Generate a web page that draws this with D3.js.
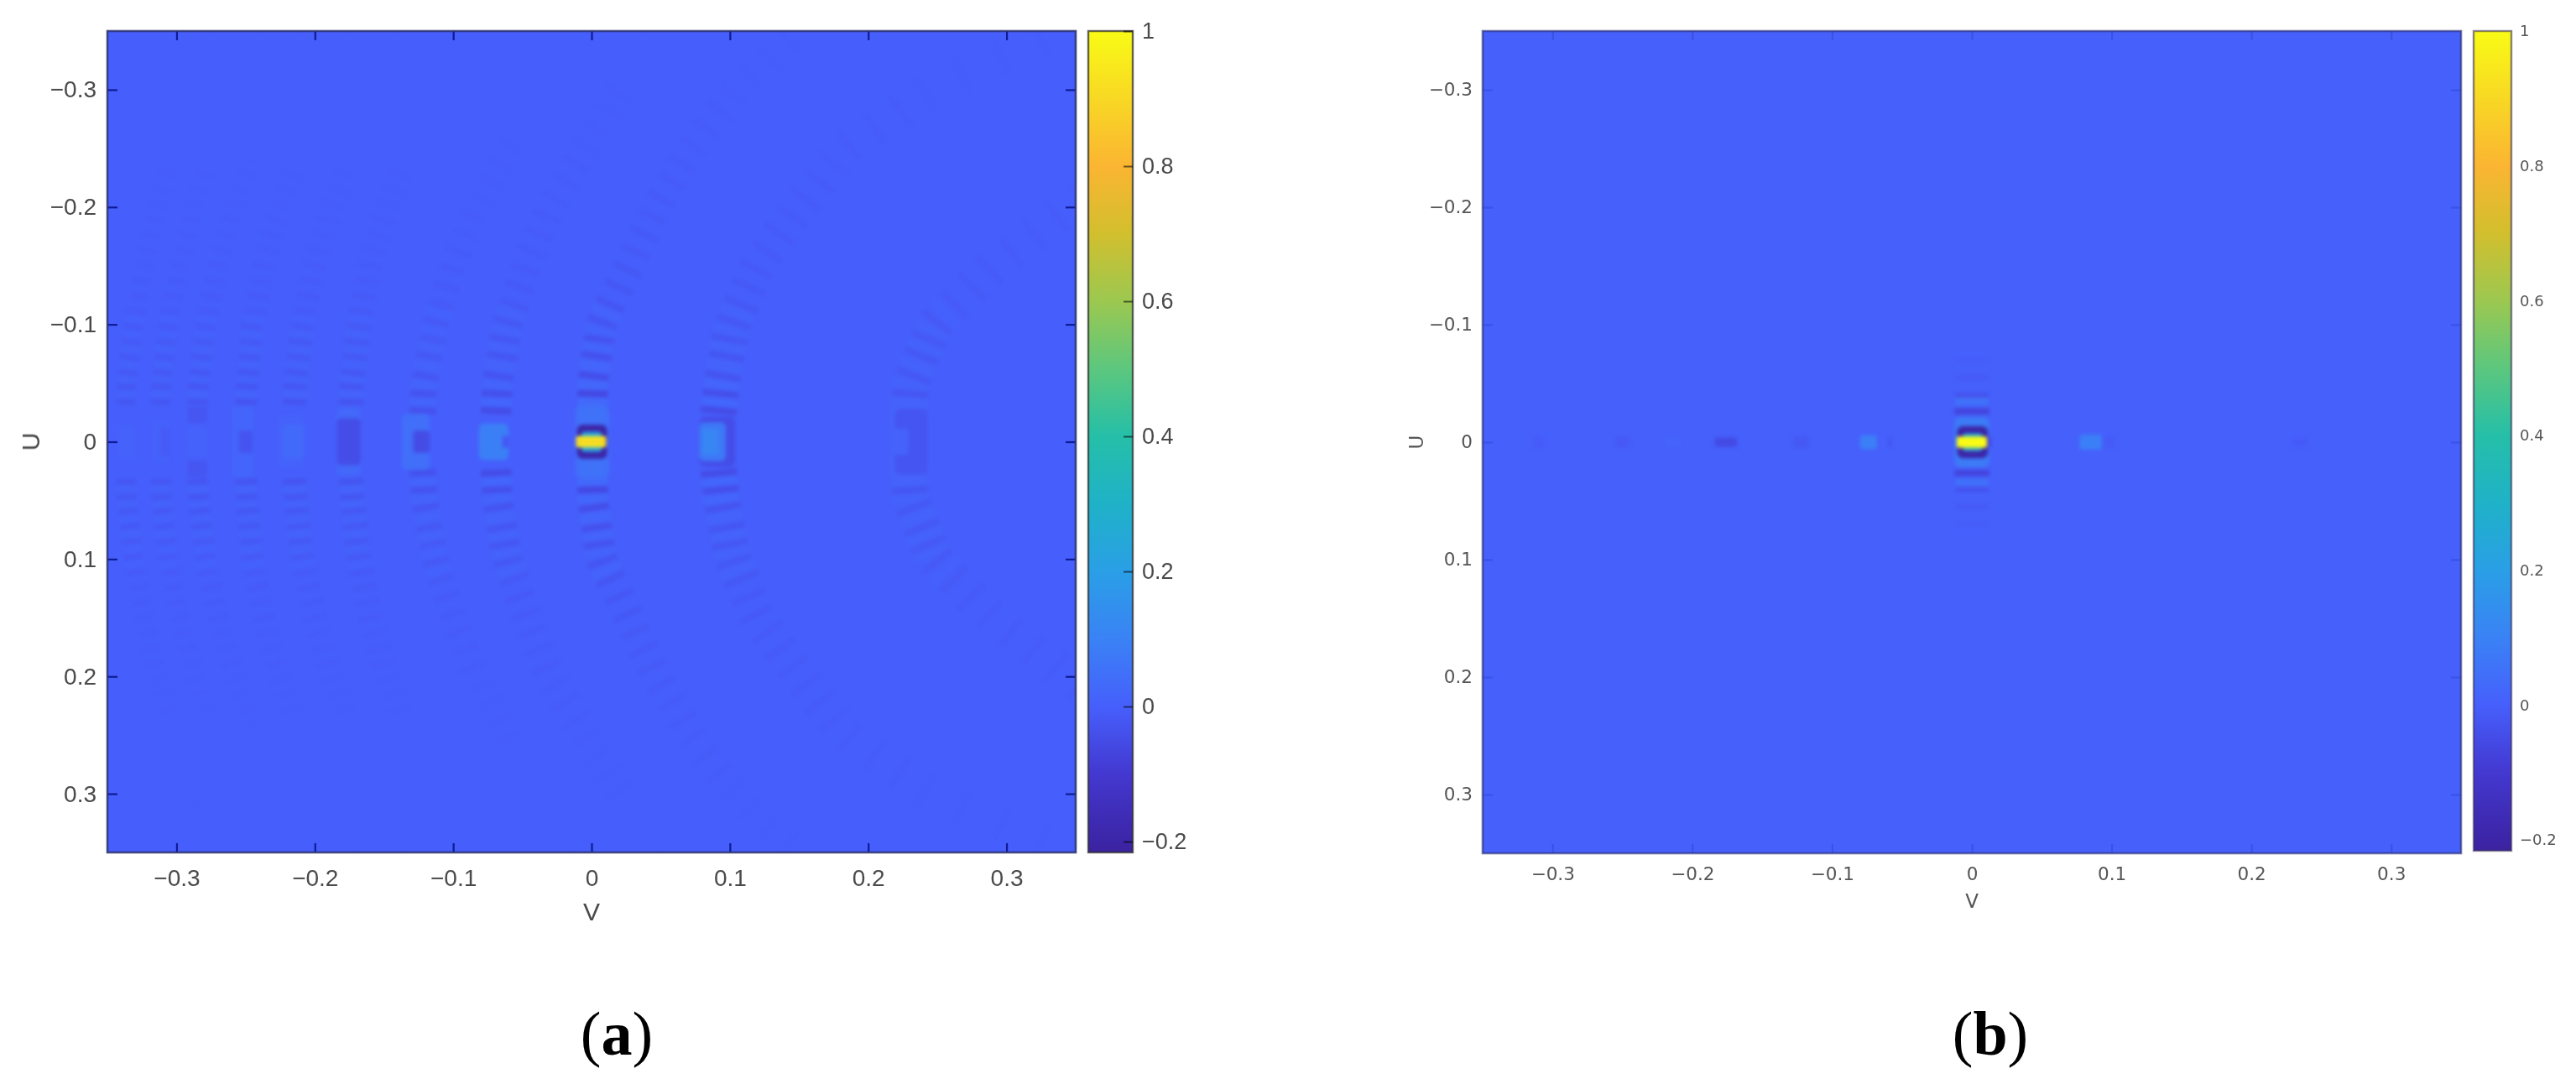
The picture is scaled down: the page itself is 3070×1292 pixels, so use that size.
<!DOCTYPE html>
<html><head><meta charset="utf-8">
<script src="https://cdn.jsdelivr.net/npm/d3@7"></script>
<style>html,body{margin:0;padding:0;background:#fff}svg{display:block}</style>
</head><body><svg id="c" width="3070" height="1292"></svg>
<script>
// ---------- axis data ----------
const vTicks = [-0.3,-0.2,-0.1,0,0.1,0.2,0.3];
const vTickLabels = ["\u22120.3","\u22120.2","\u22120.1","0","0.1","0.2","0.3"];
const uTicks = [-0.3,-0.2,-0.1,0,0.1,0.2,0.3];
const uTickLabels = ["\u22120.3","\u22120.2","\u22120.1","0","0.1","0.2","0.3"];
const barTicks = [-0.2,0,0.2,0.4,0.6,0.8,1];
const barTickLabels = ["\u22120.2","0","0.2","0.4","0.6","0.8","1"];
const colorDomain = [-0.216,-0.1,0,0.1,0.2,0.3,0.4,0.5,0.6,0.7,0.8,0.9,1];
const colorRange = ["#3b22a0","#4338d0","#465ffc","#3a82f5","#2a9fe6","#1fb2c8","#25bfa8","#5cc77e","#9cc850","#d2bf2e","#fbb532","#f8d824","#f9fb15"];

// ---------- ripple arcs of panel (a) ----------
// V position of each arc at |U| = arcU
const arcU = [0,0.05,0.1,0.15,0.2,0.25,0.3,0.35];
const arcC    = [0,0.001,0.007,0.027,0.047,0.072,0.104,0.15];
const arcR1   = [0.09,0.094,0.102,0.12,0.15,0.184,0.245,0.34];
const arcR2   = [0.228,0.231,0.248,0.29,0.345,0.4,0.46,0.52];
const arcL1   = [-0.07,-0.068,-0.061,-0.047,-0.03,-0.005,0.022,0.055];
const arcL2   = [-0.123,-0.121,-0.113,-0.1,-0.083,-0.06,-0.035,-0.005];
const arcL3   = [-0.175,-0.173,-0.168,-0.16,-0.148,-0.133,-0.115,-0.095];
const arcL4   = [-0.216,-0.214,-0.209,-0.2,-0.188,-0.172,-0.152,-0.13];
const arcL5   = [-0.251,-0.249,-0.245,-0.237,-0.226,-0.21,-0.19,-0.17];
const arcL6   = [-0.286,-0.284,-0.279,-0.27,-0.258,-0.242,-0.222,-0.2];
const arcL7   = [-0.312,-0.311,-0.306,-0.298,-0.287,-0.274,-0.256,-0.236];
const arcL8   = [-0.337,-0.336,-0.331,-0.323,-0.314,-0.3,-0.285,-0.265];
// ripple depth of each arc at |U| = ampU
const ampU = [0.03,0.06,0.1,0.15,0.2,0.25,0.3,0.35];
const ampC  = [0.07,0.04,0.026,0.017,0.012,0.009,0.006,0.004];
const ampR1 = [0.05,0.026,0.019,0.014,0.011,0.008,0.006,0.004];
const ampR2 = [0.024,0.018,0.016,0.01,0.008,0.005,0.003,0.003];
const ampL1 = [0.05,0.024,0.019,0.012,0.009,0.006,0.004,0.003];
const ampL2 = [0.035,0.02,0.015,0.01,0.006,0.004,0.003,0.002];
const ampL3 = [0.03,0.02,0.016,0.009,0.006,0.003,0.002,0.002];
const ampL4 = [0.028,0.02,0.015,0.009,0.006,0.003,0.002,0.002];
const ampL5 = [0.028,0.02,0.015,0.009,0.006,0.003,0.002,0.002];
const ampL6 = [0.026,0.019,0.014,0.009,0.006,0.003,0.002,0.002];
const ampL7 = [0.024,0.018,0.014,0.008,0.006,0.003,0.002,0.002];
const ampL8 = [0.024,0.018,0.014,0.008,0.006,0.003,0.002,0.002];
const arcWidths = [0.022,0.026,0.026,0.022,0.019,0.018,0.017,0.016,0.015,0.014,0.014];
// |U| of the dark ripple rows
const rowsWide = [0.0265,0.041,0.056,0.073,0.0873,0.102,0.117,0.132,0.147,0.162,0.177,0.192,0.207,0.222,0.237,0.252,0.267,0.282,0.297,0.312,0.327,0.342];
const rowsNarrow = [0.034,0.047,0.059,0.072,0.085,0.098,0.111,0.124,0.137,0.15,0.163,0.176,0.189,0.202,0.215,0.228,0.241,0.254,0.267,0.28,0.293,0.306,0.319,0.332,0.345];

// central patches: vMin, vMax, uMin, uMax, value
const patchesA = [
 [-0.0115,0.0125,-0.031,0.031,0.05],
 [-0.0105,0.0112,-0.0145,0.0145,-0.2],
 [-0.0075,0.0075,-0.0085,0.0085,0.22],
 [-0.0112,0.0105,-0.0048,0.0048,0.94],
 [-0.0112,0.0105,-0.0006,0.0006,0.78],
 [0.078,0.104,-0.0215,0.0215,-0.045],
 [0.078,0.097,-0.0165,0.0165,0.07],
 [0.079,0.092,-0.011,0.011,0.11],
 [0.216,0.242,-0.037,0.037,0.012],
 [0.219,0.243,-0.028,0.028,-0.026],
 [0.216,0.229,-0.011,0.011,0.012],
 [-0.0815,-0.06,-0.0155,0.0155,0.09],
 [-0.0645,-0.06,-0.005,0.005,-0.02],
 [-0.137,-0.117,-0.024,0.024,0.045],
 [-0.129,-0.117,-0.0095,0.0095,-0.05],
 [-0.184,-0.167,-0.029,0.029,0.025],
 [-0.184,-0.167,-0.02,0.02,-0.045],
 [-0.226,-0.208,-0.022,0.022,0.01],
 [-0.223,-0.208,-0.014,0.014,0.03],
 [-0.26,-0.245,-0.03,0.03,0.018],
 [-0.255,-0.245,-0.0095,0.0095,-0.028],
 [-0.292,-0.278,-0.012,0.012,0.012],
 [-0.292,-0.278,-0.03,-0.016,-0.024],
 [-0.292,-0.278,0.016,0.03,-0.024],
 [-0.317,-0.305,-0.017,0.017,0.008],
 [-0.312,-0.305,-0.012,0.012,-0.012],
 [-0.342,-0.33,-0.014,0.014,0.008]
];
const patchesB = [
 [-0.0125,0.0125,-0.0215,0.0215,0.08],
 [-0.0105,0.0115,-0.0135,0.0135,-0.2],
 [-0.0065,0.0075,-0.0075,0.0075,0.25],
 [-0.0108,0.0108,-0.0048,0.0048,1],
 [0.011,0.0135,-0.004,0.004,-0.08],
 [-0.0125,0.0125,-0.029,-0.0235,-0.07],
 [-0.0125,0.0125,0.0235,0.029,-0.07],
 [-0.012,0.012,-0.039,-0.031,0.05],
 [-0.012,0.012,0.031,0.037,0.05],
 [-0.012,0.012,-0.042,-0.038,-0.036],
 [-0.012,0.012,0.0385,0.0425,-0.036],
 [-0.012,0.012,-0.057,-0.053,-0.016],
 [-0.012,0.012,0.053,0.057,-0.016],
 [-0.012,0.012,-0.071,-0.068,-0.008],
 [-0.012,0.012,0.068,0.071,-0.008],
 [0.077,0.093,-0.0065,0.0065,0.09],
 [0.095,0.102,-0.005,0.005,-0.012],
 [-0.08,-0.068,-0.006,0.006,0.09],
 [-0.0595,-0.0575,-0.004,0.004,-0.04],
 [-0.128,-0.117,-0.005,0.005,-0.018],
 [-0.184,-0.168,-0.004,0.004,-0.055],
 [-0.22,-0.208,-0.005,0.005,0.015],
 [-0.255,-0.245,-0.005,0.005,-0.016],
 [-0.314,-0.306,-0.005,0.005,-0.009],
 [0.23,0.24,-0.004,0.004,-0.012]
];

const color = d3.scaleLinear().domain(colorDomain).range(colorRange).clamp(true);
const svg = d3.select("#c");
const defs = svg.append("defs");
const addBlur=(id,s)=>defs.append("filter").attr("id",id).attr("x","-5%").attr("y","-5%").attr("width","110%").attr("height","110%")
  .attr("color-interpolation-filters","sRGB").append("feGaussianBlur").attr("stdDeviation",s);
addBlur("heat",2); addBlur("txtA",0.55); addBlur("txtB",0.75);
const grad = defs.append("linearGradient").attr("id","bar").attr("x1",0).attr("x2",0).attr("y1",1).attr("y2",0);
colorDomain.forEach((d,i)=>grad.append("stop").attr("offset",(d-colorDomain[0])/(1-colorDomain[0])).attr("stop-color",colorRange[i]));

function panel(p){
  const x = d3.scaleLinear().domain([-0.35,0.35]).range([p.left,p.right]);
  const y = d3.scaleLinear().domain([-0.35,0.35]).range([p.top,p.bottom]);
  const c = d3.scaleLinear().domain([-0.216,1]).range([p.barBottom,p.top]);
  const g = svg.append("g");
  defs.append("clipPath").attr("id","clip"+p.id).append("rect")
    .attr("x",p.left).attr("y",p.top).attr("width",p.right-p.left).attr("height",p.bottom-p.top);
  g.append("rect").attr("x",p.left).attr("y",p.top).attr("width",p.right-p.left).attr("height",p.bottom-p.top).attr("fill",color(p.base));
  const heat = g.append("g").attr("clip-path",`url(#clip${p.id})`).append("g").attr("filter","url(#heat)");

  (p.arcs||[]).forEach(a=>{
    const vAt = d3.scaleLinear().domain(arcU).range(a.v);
    const ampAt = d3.scaleLinear().domain(ampU).range(a.amp).clamp(true);
    const half = Math.abs(x(a.w)-x(0))/2;
    const stripe=(u,val,th)=>{
      const au=Math.abs(u), s=u<0?-1:1, e=0.006;
      const px=x(vAt(au)), py=y(u);
      const dx=x(vAt(Math.min(au+e,0.35)))-x(vAt(Math.max(au-e,0)));
      const dy=Math.abs(y(au+e)-y(au-e));
      const L=Math.hypot(dx,dy);
      const tx=half*dy/L, ty=half*(s<0?1:-1)*dx/L;
      heat.append("line").attr("x1",px-tx).attr("y1",py-ty).attr("x2",px+tx).attr("y2",py+ty)
        .attr("stroke",color(val)).attr("stroke-width",th);
    };
    a.rows.forEach((r,i)=>{
      if(i<a.rows.length-1){
        const m=(r+a.rows[i+1])/2;
        if(m<0.11){[m,-m].forEach(u=>stripe(u,ampAt(m)*0.45,Math.abs(y(a.rows[i+1])-y(r))*0.5));}
      }
    });
    a.rows.forEach(r=>{[r,-r].forEach(u=>stripe(u,-ampAt(r),Math.abs(y(a.rows[1])-y(a.rows[0]))*0.38));});
  });

  heat.selectAll("rect.p").data(p.patches).join("rect").attr("class","p")
    .attr("x",d=>x(d[0])).attr("width",d=>x(d[1])-x(d[0]))
    .attr("y",d=>y(d[2])).attr("height",d=>y(d[3])-y(d[2]))
    .attr("rx",d=>Math.min(x(d[1])-x(d[0]),y(d[3])-y(d[2]))*0.18)
    .attr("fill",d=>color(d[4]));

  const tk = p.tickColor;
  const style=(sel,font,size,fill)=>{
    sel.select(".domain").remove();
    sel.selectAll("line").attr("stroke",tk).attr("stroke-width",2.2);
    sel.selectAll("text").attr("font-family",font).attr("font-size",size).attr("fill",fill).attr("filter",p.txtFilter);
  };
  const ax=g.append("g").attr("transform",`translate(0,${p.bottom})`)
    .call(d3.axisBottom(x).tickValues(vTicks).tickFormat((d,i)=>vTickLabels[i]).tickSize(-11).tickPadding(p.xPad));
  style(ax,p.font,p.size,p.ink);
  const axT=g.append("g").attr("transform",`translate(0,${p.top})`)
    .call(d3.axisTop(x).tickValues(vTicks).tickFormat("").tickSize(-11)); style(axT,p.font,p.size,p.ink);
  const ay=g.append("g").attr("transform",`translate(${p.left},0)`)
    .call(d3.axisLeft(y).tickValues(uTicks).tickFormat((d,i)=>uTickLabels[i]).tickSize(-12).tickPadding(p.yPad));
  style(ay,p.font,p.size,p.ink);
  const ayR=g.append("g").attr("transform",`translate(${p.right},0)`)
    .call(d3.axisRight(y).tickValues(uTicks).tickFormat("").tickSize(-12)); style(ayR,p.font,p.size,p.ink);
  g.append("rect").attr("x",p.left).attr("y",p.top).attr("width",p.right-p.left).attr("height",p.bottom-p.top)
    .attr("fill","none").attr("stroke",p.frame).attr("stroke-width",2.6);

  g.append("text").attr("x",x(0)).attr("y",p.vLabelY).attr("text-anchor","middle").text("V")
    .attr("font-family",p.font).attr("font-size",p.labelSize).attr("fill",p.ink).attr("filter",p.txtFilter);
  g.append("text").attr("transform",`translate(${p.uLabelX},${y(0)}) rotate(-90)`).attr("text-anchor","middle").text("U")
    .attr("font-family",p.font).attr("font-size",p.labelSize).attr("fill",p.ink).attr("filter",p.txtFilter);

  // colour bar
  g.append("rect").attr("x",p.barLeft).attr("y",p.top).attr("width",p.barRight-p.barLeft).attr("height",p.barBottom-p.top)
    .attr("fill","url(#bar)").attr("stroke",p.barFrame).attr("stroke-width",2.4);
  const ac=g.append("g").attr("transform",`translate(${p.barRight},0)`)
    .call(d3.axisRight(c).tickValues(barTicks).tickFormat((d,i)=>barTickLabels[i]).tickSize(-11).tickPadding(p.barPad));
  ac.select(".domain").remove();
  ac.selectAll("line").attr("stroke",p.barTick).attr("stroke-width",2);
  ac.selectAll("text").attr("font-family",p.font).attr("font-size",p.barSize).attr("fill",p.ink).attr("filter",p.txtFilter);

  const cap=svg.append("text").attr("x",p.capX).attr("y",1257).attr("text-anchor","middle")
    .attr("font-family","Liberation Serif").attr("font-size",74).attr("fill","#000");
  cap.append("tspan").text("(");
  cap.append("tspan").attr("font-weight","bold").text(p.id);
  cap.append("tspan").text(")");
}

const arcList=[
 {v:arcC,amp:ampC,rows:rowsWide},{v:arcR1,amp:ampR1,rows:rowsWide},{v:arcR2,amp:ampR2,rows:rowsWide},
 {v:arcL1,amp:ampL1,rows:rowsWide},{v:arcL2,amp:ampL2,rows:rowsWide},{v:arcL3,amp:ampL3,rows:rowsNarrow},
 {v:arcL4,amp:ampL4,rows:rowsNarrow},{v:arcL5,amp:ampL5,rows:rowsNarrow},{v:arcL6,amp:ampL6,rows:rowsNarrow},
 {v:arcL7,amp:ampL7,rows:rowsNarrow},{v:arcL8,amp:ampL8,rows:rowsNarrow}
].map((a,i)=>Object.assign(a,{w:arcWidths[i]}));

panel({id:"a",left:128,right:1282,top:37,bottom:1016,base:0,arcs:arcList,patches:patchesA,
  font:"Liberation Sans",size:28,labelSize:30,barSize:27,ink:"#4a4a4a",xPad:20,yPad:13,vLabelY:1097,uLabelX:47,
  tickColor:"rgba(5,15,130,0.85)",frame:"rgba(45,50,110,0.85)",barLeft:1297,barRight:1350,barBottom:1016,
  barFrame:"rgba(50,50,50,0.75)",barTick:"rgba(0,0,0,0.55)",barPad:11,txtFilter:"url(#txtA)",capX:735});
panel({id:"b",left:1767,right:2933,top:37,bottom:1017,base:0.004,arcs:[],patches:patchesB,
  font:"DejaVu Sans",size:21.5,labelSize:23,barSize:18,ink:"#555",xPad:17,yPad:12,vLabelY:1082,uLabelX:1696,
  tickColor:"rgba(25,30,150,0.22)",frame:"rgba(50,55,130,0.7)",barLeft:2948,barRight:2993,barBottom:1014,
  barFrame:"rgba(60,50,90,0.6)",barTick:"rgba(0,0,0,0)",barPad:10,txtFilter:"url(#txtB)",capX:2372});
</script></body></html>
